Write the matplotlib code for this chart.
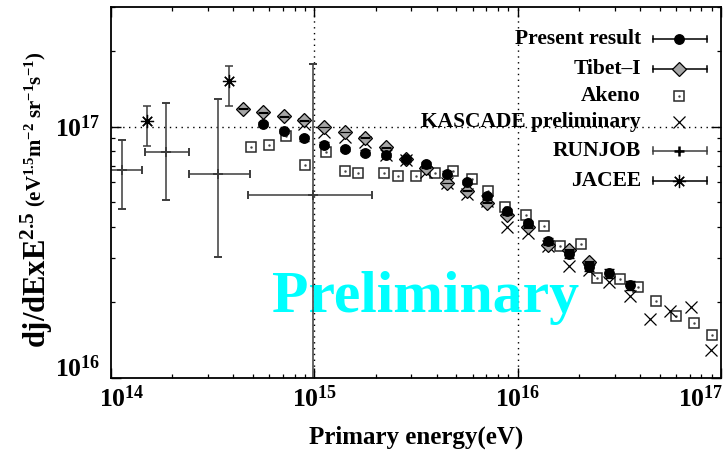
import numpy as np
import matplotlib
matplotlib.use('Agg')
import matplotlib.pyplot as plt
import matplotlib.transforms as mtransforms
from matplotlib.ticker import NullFormatter, LogLocator

plt.rcParams['font.family'] = ['Liberation Serif', 'DejaVu Serif']
plt.rcParams['font.weight'] = 'bold'
plt.rcParams['mathtext.fontset'] = 'custom'
plt.rcParams['mathtext.rm'] = 'Liberation Serif:bold'
plt.rcParams['mathtext.it'] = 'Liberation Serif:bold'
plt.rcParams['mathtext.bf'] = 'Liberation Serif:bold'
plt.rcParams['mathtext.default'] = 'rm'

# ---------------- data ----------------
present_E = [5.62e14, 7.08e14, 8.91e14, 1.12e15, 1.41e15, 1.78e15, 2.24e15, 2.82e15,
             3.55e15, 4.47e15, 5.62e15, 7.08e15, 8.91e15, 1.12e16, 1.41e16, 1.78e16,
             2.24e16, 2.82e16, 3.55e16]
present_J = [1.025e17, 9.6e16, 8.97e16, 8.49e16, 8.15e16, 7.88e16, 7.69e16, 7.41e16,
             7.12e16, 6.5e16, 6.01e16, 5.28e16, 4.61e16, 4.13e16, 3.51e16, 3.10e16,
             2.76e16, 2.61e16, 2.34e16]
present_err = [2.0e15, 1.9e15, 1.8e15, 1.7e15, 1.6e15, 1.6e15, 1.5e15, 1.5e15,
               1.4e15, 1.3e15, 1.2e15, 1.1e15, 1.0e15, 1.0e15, 1.0e15, 1.0e15,
               1.0e15, 1.0e15, 1.0e15]

tibet_E = [4.47e14, 5.62e14, 7.08e14, 8.91e14, 1.12e15, 1.41e15, 1.78e15, 2.24e15,
           2.82e15, 3.55e15, 4.47e15, 5.62e15, 7.08e15, 8.91e15, 1.12e16, 1.41e16,
           1.78e16, 2.24e16]
tibet_J = [1.177e17, 1.14e17, 1.099e17, 1.061e17, 9.97e16, 9.51e16, 9.04e16, 8.28e16,
           7.46e16, 6.87e16, 5.97e16, 5.56e16, 4.99e16, 4.46e16, 3.98e16, 3.39e16,
           3.24e16, 2.90e16]
tibet_err = [4e14, 4e14, 4e14, 4e14, 4e14, 3e14, 3e14, 3e14, 3e14, 3e14, 2e14, 2e14,
             2e14, 2e14, 2e14, 1e14, 1e14, 1e14]

akeno_E = [4.86e14, 5.98e14, 7.29e14, 8.95e14, 1.146e15, 1.41e15, 1.64e15, 2.20e15,
           2.59e15, 3.18e15, 3.90e15, 4.79e15, 5.97e15, 7.11e15, 8.69e15, 1.099e16,
           1.34e16, 1.61e16, 2.05e16, 2.45e16, 3.19e16, 3.91e16, 4.78e16, 5.98e16,
           7.36e16, 8.99e16]
akeno_J = [8.27e16, 8.43e16, 9.21e16, 7.01e16, 7.93e16, 6.68e16, 6.52e16, 6.52e16,
           6.34e16, 6.34e16, 6.53e16, 6.69e16, 6.19e16, 5.57e16, 4.79e16, 4.45e16,
           4.01e16, 3.35e16, 3.41e16, 2.50e16, 2.47e16, 2.31e16, 2.03e16, 1.77e16,
           1.65e16, 1.48e16]

kascade_E = [8.91e14, 1.12e15, 1.41e15, 1.78e15, 2.24e15, 2.82e15, 3.55e15, 4.47e15,
             5.62e15, 7.08e15, 8.91e15, 1.12e16, 1.41e16, 1.78e16, 2.24e16, 2.82e16,
             3.55e16, 4.47e16, 5.62e16, 7.08e16, 8.91e16]
kascade_J = [1.028e17, 9.55e16, 9.08e16, 8.72e16, 7.73e16, 7.39e16, 6.59e16, 5.98e16,
             5.41e16, 5.04e16, 4.00e16, 3.77e16, 3.34e16, 2.78e16, 2.69e16, 2.42e16,
             2.12e16, 1.71e16, 1.84e16, 1.91e16, 1.29e16]

runjob_E = [1.13e14, 1.86e14, 3.37e14, 9.84e14]
runjob_Elo = [0.89e14, 1.47e14, 2.42e14, 4.74e14]
runjob_Ehi = [1.42e14, 2.42e14, 4.83e14, 1.93e15]
runjob_J = [6.74e16, 7.93e16, 6.50e16, 5.36e16]
runjob_Jlo = [4.70e16, 5.12e16, 3.02e16, 5.0e15]
runjob_Jhi = [8.82e16, 1.243e17, 1.293e17, 1.774e17]

jacee_E = [1.50e14, 3.79e14]
jacee_J = [1.05e17, 1.515e17]
jacee_Jlo = [8.40e16, 1.205e17]
jacee_Jhi = [1.205e17, 1.739e17]

legend_labels = ['Present result', 'Tibet\u2013I', 'Akeno', 'KASCADE preliminary',
                 'RUNJOB', 'JACEE']

# ---------------- figure ----------------
W, H = 726, 457
fig = plt.figure(figsize=(W / 100, H / 100), dpi=100)
L, R, T, B = 111, 721, 6.7, 378
ax = fig.add_axes([L / W, 1 - B / H, (R - L) / W, (B - T) / H])
ax.set_xscale('log')
ax.set_yscale('log')
ax.set_xlim(1e14, 1e17)
ax.set_ylim(1e16, 3e17)

# grid lines
for xv in [1e15, 1e16]:
    ax.axvline(xv, color='black', lw=1.0, ls=(0, (1, 3.2)), zorder=1)
ax.axhline(1e17, color='black', lw=1.0, ls=(0, (1, 3.2)), zorder=1)

# Preliminary watermark
ax.text(0.264, 0.178, 'Preliminary', transform=ax.transAxes, color='#00ffff',
        fontsize=43, fontweight='bold', ha='left', va='baseline', zorder=1.5)

grayline = '#3c3c3c'

# RUNJOB
runjob_E_a = np.array(runjob_E); runjob_J_a = np.array(runjob_J)
ax.errorbar(runjob_E_a, runjob_J_a,
            xerr=[runjob_E_a - np.array(runjob_Elo), np.array(runjob_Ehi) - runjob_E_a],
            yerr=[runjob_J_a - np.array(runjob_Jlo), np.array(runjob_Jhi) - runjob_J_a],
            fmt='+', color=grayline, ms=7, mew=1.4, elinewidth=1.1, capsize=3.2,
            capthick=1.1, zorder=3)

# JACEE
jacee_E_a = np.array(jacee_E); jacee_J_a = np.array(jacee_J)
ax.errorbar(jacee_E_a, jacee_J_a,
            yerr=[jacee_J_a - np.array(jacee_Jlo), np.array(jacee_Jhi) - jacee_J_a],
            fmt='none', ecolor=grayline, elinewidth=1.1, capsize=3.2, capthick=1.1,
            zorder=3)
ax.plot(jacee_E, jacee_J, ls='none', marker=(8, 2, 0), ms=9.5, mew=0.9,
        color='black', zorder=3.1)

# Akeno
ax.plot(akeno_E, akeno_J, ls='none', marker='s', ms=7.8, mfc='white', mec='#2a2a2a',
        mew=1.1, zorder=4)
ax.plot(akeno_E, akeno_J, ls='none', marker='.', ms=1.5, color='#444444', zorder=4.1)

# KASCADE
ax.plot(kascade_E, kascade_J, ls='none', marker='x', ms=8.0, mew=0.9,
        color='black', zorder=4.5)

# Tibet-I
ax.plot(tibet_E, tibet_J, ls='none', marker='D', ms=7.4, mfc='#a6a6a6', mec='black',
        mew=0.9, zorder=5)
ax.errorbar(tibet_E, tibet_J, yerr=tibet_err, fmt='none', ecolor='black',
            elinewidth=0.8, capsize=3.6, capthick=0.8, zorder=5.1)

# Present result
ax.errorbar(present_E, present_J, yerr=present_err, fmt='none', ecolor='black',
            elinewidth=1.0, capsize=3.3, capthick=1.0, zorder=6)
ax.plot(present_E, present_J, ls='none', marker='o', ms=6.8, color='black', zorder=6.1)

# ---------------- axes styling ----------------
for s in ax.spines.values():
    s.set_linewidth(1.3)
    s.set_color('black')
    s.set_zorder(7)

ax.set_xticks([1e14, 1e15, 1e16, 1e17])
ax.set_xticklabels([r'$10^{14}$', r'$10^{15}$', r'$10^{16}$', r'$10^{17}$'])
ax.set_yticks([1e16, 1e17])
ax.set_yticklabels([r'$10^{16}$', r'$10^{17}$'])
ax.xaxis.set_minor_locator(LogLocator(base=10, subs=np.arange(2, 10), numticks=20))
ax.yaxis.set_minor_locator(LogLocator(base=10, subs=np.arange(2, 10), numticks=20))
ax.xaxis.set_minor_formatter(NullFormatter())
ax.yaxis.set_minor_formatter(NullFormatter())
ax.tick_params(which='both', direction='in', top=True, right=True, color='black')
ax.tick_params(which='major', length=7.2, width=1.0, labelsize=18.5)
ax.tick_params(which='minor', length=3.2, width=0.9)
ax.tick_params(axis='x', which='major', pad=5)
ax.tick_params(axis='y', which='major', pad=7.5)

# offsets of end labels (as in original, moved to avoid overlap / edge)
xl = ax.get_xticklabels()
yl = ax.get_yticklabels()
def shift(lab, dx, dy):
    lab.set_transform(lab.get_transform() +
                      mtransforms.ScaledTranslation(dx / 100, dy / 100, fig.dpi_scale_trans))
shift(xl[0], 11, 0)
shift(xl[3], -20, 0)
shift(yl[0], 0, 12)

# axis labels
fig.text((L + R) / 2 / W, 1 - 437 / H, 'Primary energy(eV)', ha='center', va='center',
         fontsize=18, fontweight='bold')
t_big = fig.text(37 / W, 1 - 348 / H, r'dj/dExE$^{2.5}$', rotation=90, ha='center',
                 va='bottom', fontsize=22, fontweight='bold')
fig.canvas.draw()
bb = t_big.get_window_extent(fig.canvas.get_renderer())
y_small = (bb.y1 + 4) / H
fig.text(35 / W, y_small, r'(eV$^{1.5}$m$^{-2}$ sr$^{-1}$s$^{-1}$)', rotation=90,
         ha='center', va='bottom', fontsize=15, fontweight='bold')

# ---------------- key (gnuplot style) ----------------
def ax_x(px):
    return (px - L) / (R - L)
def ax_y(py):
    return (B - py) / (B - T)

rows = [39, 69, 95.7, 121.7, 150.7, 180.7]
text_x = ax_x(641)
x0, x1, xm = ax_x(652.7), ax_x(707.3), ax_x(679)
cap_h = 3.3 / (B - T)
tr = ax.transAxes
for i, (lab, py) in enumerate(zip(legend_labels, rows)):
    yy = ax_y(py)
    ax.text(text_x, yy, lab, transform=tr, ha='right', va='center', fontsize=15.5,
            fontweight='bold', zorder=8)
    if i in (0, 1, 4, 5):
        col = grayline if i == 4 else 'black'
        ax.plot([x0, x1], [yy, yy], transform=tr, color=col, lw=1.1, clip_on=False,
                zorder=8)
        for xc in (x0, x1):
            ax.plot([xc, xc], [yy - cap_h, yy + cap_h], transform=tr, color=col, lw=1.1,
                    clip_on=False, zorder=8)
    if i == 0:
        ax.plot([xm], [yy], transform=tr, marker='o', ms=6.8, color='black',
                clip_on=False, zorder=9)
    elif i == 1:
        ax.plot([xm], [yy], transform=tr, marker='D', ms=7.4, mfc='#a6a6a6', mec='black',
                mew=0.9, clip_on=False, zorder=9)
    elif i == 2:
        ax.plot([xm], [yy], transform=tr, marker='s', ms=7.8, mfc='white', mec='#2a2a2a',
                mew=1.1, clip_on=False, zorder=9)
        ax.plot([xm], [yy], transform=tr, marker='.', ms=1.5, color='#444444',
                clip_on=False, zorder=9.1)
    elif i == 3:
        ax.plot([xm], [yy], transform=tr, marker='x', ms=8.0, mew=0.9, color='black',
                clip_on=False, zorder=9)
    elif i == 4:
        ax.plot([xm], [yy], transform=tr, marker='+', ms=7, mew=1.8, color='black',
                clip_on=False, zorder=9)
    elif i == 5:
        ax.plot([xm], [yy], transform=tr, marker=(8, 2, 0), ms=9.5, mew=0.9,
                color='black', clip_on=False, zorder=9)

fig.savefig('out.png', dpi=100)
